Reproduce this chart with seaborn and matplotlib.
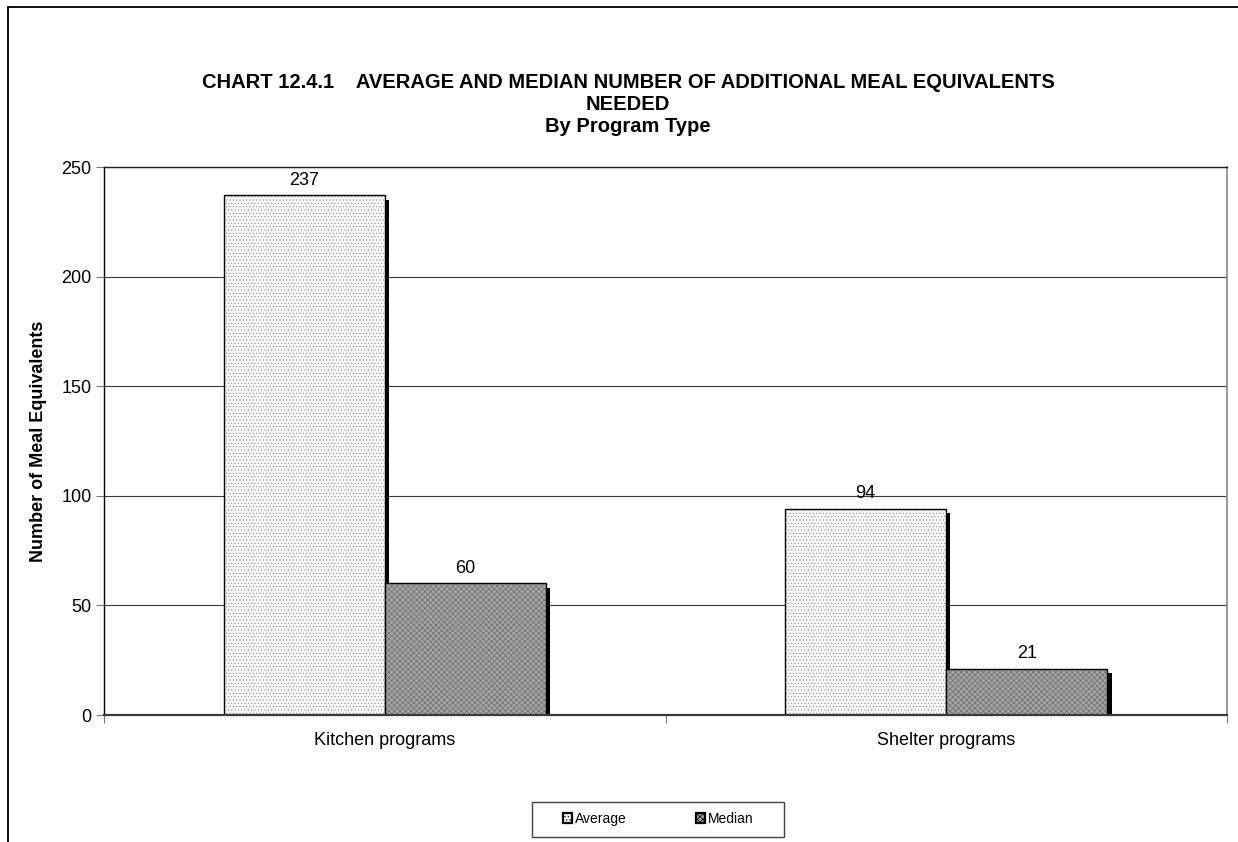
import matplotlib
matplotlib.use("Agg")
import matplotlib.pyplot as plt
import matplotlib.patheffects as pe
from matplotlib.patches import Rectangle, Patch
import pandas as pd
import seaborn as sns

programs = ["Kitchen programs", "Shelter programs"]
average = [237, 94]
median = [60, 21]
series = ["Average", "Median"]
y_ticks = [0, 50, 100, 150, 200, 250]

df = pd.DataFrame({
    "program": programs * 2,
    "stat": ["Average"] * len(programs) + ["Median"] * len(programs),
    "value": average + median,
})

sns.set_theme(style="white")
plt.rcParams["font.family"] = ["Liberation Sans", "DejaVu Sans"]
plt.rcParams["hatch.linewidth"] = 0.5
for key in ["text.color", "axes.labelcolor", "xtick.labelcolor", "ytick.labelcolor"]:
    plt.rcParams[key] = "black"


class SolidShadow(pe.AbstractPathEffect):
    """Solid black drop shadow drawn without the patch hatch or edge."""

    def draw_path(self, renderer, gc, tpath, affine, rgbFace=None):
        gc0 = renderer.new_gc()
        gc0.copy_properties(gc)
        gc0.set_hatch(None)
        gc0.set_linewidth(0)
        renderer.draw_path(gc0, tpath, affine + self._offset_transform(renderer),
                           (0, 0, 0, 1))
        gc0.restore()


W, H = 1238, 842
fig = plt.figure(figsize=(W / 100, H / 100), dpi=100)
ax = fig.add_axes([104 / W, 1 - 715 / H, (1227 - 104) / W, (715 - 167) / H])

sns.barplot(data=df, x="program", y="value", hue="stat", hue_order=series,
            order=programs, width=0.574, gap=0, ax=ax, legend=False,
            errorbar=None, saturation=1)

styles = {
    "Average": dict(facecolor="#f6f6f6", hatch=".....", hatch_color="#a0a0a0"),
    "Median": dict(facecolor="#a4a4a4", hatch="xxxxxx", hatch_color="#6e6e6e"),
}
shadow = [SolidShadow(offset=(3.0, -3.0)), pe.Normal()]

for cont, name in zip(ax.containers, series):
    st = styles[name]
    for bar in cont:
        bar.set_facecolor(st["facecolor"])
        bar.set_hatch(st["hatch"])
        bar.set_edgecolor("black")
        bar.set_linewidth(1.0)
        bar.set_path_effects(shadow)
        bar._hatch_color = matplotlib.colors.to_rgba(st["hatch_color"])
    ax.bar_label(cont, labels=[f"{v:g}" for v in cont.datavalues], padding=5,
                 fontsize=13, color="black")

ax.set_ylim(0, 250)
ax.set_xlim(-0.5, 1.5)
ax.set_yticks(y_ticks)
ax.set_yticklabels([str(t) for t in y_ticks], fontsize=13)
ax.yaxis.grid(True, color="#3a3a3a", linewidth=0.8)
ax.set_axisbelow(True)
ax.tick_params(axis="y", length=6, width=0.8, color="#777777", left=True, pad=3)
ax.tick_params(axis="x", which="major", length=0, labelsize=13, pad=12)
ax.set_xticks([-0.5, 0.5, 1.5], minor=True)
ax.tick_params(axis="x", which="minor", length=6, width=0.8, color="#777777", bottom=True)
ax.set_xlabel("")
ax.set_ylabel("Number of Meal Equivalents", fontsize=13, fontweight="bold", labelpad=10)

for side in ["left", "bottom", "top", "right"]:
    ax.spines[side].set_visible(True)
ax.spines["left"].set_color("black")
ax.spines["left"].set_linewidth(1.0)
ax.spines["bottom"].set_color("#3a3a3a")
ax.spines["bottom"].set_linewidth(1.6)
ax.spines["top"].set_color("#222222")
ax.spines["top"].set_linewidth(1.0)
ax.spines["right"].set_color("#888888")
ax.spines["right"].set_linewidth(1.2)

title_lines = [
    "CHART 12.4.1    AVERAGE AND MEDIAN NUMBER OF ADDITIONAL MEAL EQUIVALENTS",
    "NEEDED",
    "By Program Type",
]
for line, ypix in zip(title_lines, [83, 105, 127]):
    fig.text(628 / W, 1 - ypix / H, line, ha="center", va="center",
             fontsize=14.5, fontweight="bold")

# legend box with entries spread across it
fig.patches.append(Rectangle((532 / W, 1 - 837 / H), (784 - 532) / W, 35 / H,
                             transform=fig.transFigure, fill=False,
                             edgecolor="#444444", linewidth=1.0))
handles = [Patch(facecolor=styles[s]["facecolor"], edgecolor="black", hatch=styles[s]["hatch"],
                 linewidth=1.6) for s in series]
leg = fig.legend(handles, series, loc="center", bbox_to_anchor=(658 / W, 1 - 819 / H),
                 ncol=2, fontsize=10, frameon=False,
                 handlelength=0.65, handleheight=0.65, handletextpad=0.2,
                 borderaxespad=0, borderpad=0, columnspacing=5.0)

# chart frame, open on the right and bottom
fig.patches.append(Rectangle((8 / W, -0.2), 1.2, 1.2 - 7 / H, transform=fig.transFigure,
                             fill=False, edgecolor="black", linewidth=1.3, clip_on=False))

fig.savefig("out.png", dpi=100, facecolor="white")
